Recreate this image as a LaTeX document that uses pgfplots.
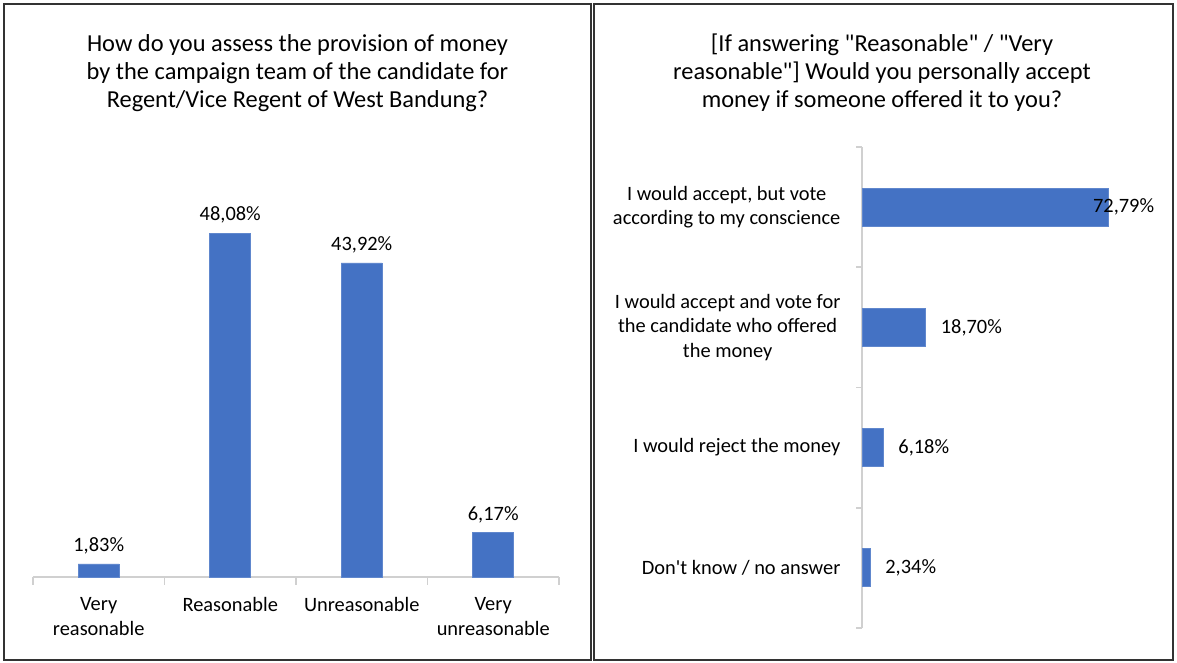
\documentclass[border=0pt]{standalone}
\usepackage{pgfplots}
\pgfplotsset{compat=1.18}
\usepackage{fontspec}
\setmainfont{Carlito}
\definecolor{barblue}{HTML}{4472C4}
\definecolor{axgray}{HTML}{D0D0D0}
\newcommand{\ttl}{\fontsize{12.2}{14}\selectfont}
\newcommand{\lbl}{\fontsize{10.2}{12.2}\selectfont}
\begin{document}
\begin{tikzpicture}
\useasboundingbox (0,0) rectangle (588.5pt,331.5pt);
% panel frames
\draw[line width=0.8pt, black!80] (2pt,1.5pt) rectangle (295.5pt,329.5pt);
\draw[line width=0.8pt, black!80] (297pt,1.5pt) rectangle (586.5pt,329.5pt);
% titles
\node[align=center, font=\ttl] at (148.75pt,295pt) {How do you assess the provision of money\\by the campaign team of the candidate for\\Regent/Vice Regent of West Bandung?};
\node[align=center, font=\ttl] at (441pt,295pt) {[If answering \textquotedbl Reasonable\textquotedbl{} / \textquotedbl Very\\reasonable\textquotedbl] Would you personally accept\\money if someone offered it to you?};

% left: vertical bars
\begin{axis}[
    at={(16.5pt,43pt)}, anchor=south west,
    scale only axis, width=263pt, height=214.5pt,
    ybar, bar width=20.5pt, bar shift=0pt,
    xmin=-0.5, xmax=3.5, ymin=0, ymax=60,
    axis x line*=bottom, axis y line=none,
    x axis line style={draw=axgray, line width=0.8pt, -},
    xtick={0,1,2,3},
    xticklabels={{Very\\reasonable},Reasonable,Unreasonable,{Very\\unreasonable}},
    xtick style={draw=none},
    xticklabel style={align=center, font=\lbl, yshift=-2.5pt},
    point meta=explicit symbolic,
    nodes near coords,
    nodes near coords style={font=\lbl, anchor=south, yshift=1.5pt},
    clip=false,
]
\addplot[fill=barblue, draw=barblue!85!white] coordinates {
    (0,1.83) [1,83\%]
    (1,48.08) [48,08\%]
    (2,43.92) [43,92\%]
    (3,6.17) [6,17\%]
};
% category separators on the axis
\pgfplotsinvokeforeach{-0.5,0.5,1.5,2.5,3.5}{
    \draw[axgray, line width=0.8pt] (axis cs:#1,0) -- ([yshift=-4pt]axis cs:#1,0);
}
\end{axis}

% right: horizontal bars
\begin{axis}[
    at={(431pt,17.5pt)}, anchor=south west,
    scale only axis, width=144pt, height=240.5pt,
    xbar, bar width=19pt, bar shift=0pt,
    xmin=0, xmax=85, ymin=-0.5, ymax=3.5, y dir=reverse,
    axis y line*=left, axis x line=none,
    y axis line style={draw=axgray, line width=0.8pt, -},
    ytick={0,1,2,3},
    yticklabels={{I would accept, but vote\\according to my conscience},
                 {I would accept and vote for\\the candidate who offered\\the money},
                 {I would reject the money},
                 {Don\textquotesingle t know / no answer}},
    ytick style={draw=none},
    yticklabel style={align=center, font=\lbl, xshift=-3pt},
    point meta=explicit symbolic,
    nodes near coords,
    clip=false,
]
\addplot[fill=barblue, draw=barblue!85!white,
    nodes near coords style={font=\lbl, anchor=west, xshift=-11.3pt}] coordinates {
    (72.79,0) [72,79\%]
};
\addplot[fill=barblue, draw=barblue!85!white,
    nodes near coords style={font=\lbl, anchor=west, xshift=4.2pt}] coordinates {
    (18.70,1) [18,70\%]
    (6.18,2) [6,18\%]
    (2.34,3) [2,34\%]
};
\pgfplotsinvokeforeach{-0.5,0.5,1.5,2.5,3.5}{
    \draw[axgray, line width=0.8pt] (axis cs:0,#1) -- ([xshift=-3pt]axis cs:0,#1);
}
\end{axis}
\end{tikzpicture}
\end{document}
